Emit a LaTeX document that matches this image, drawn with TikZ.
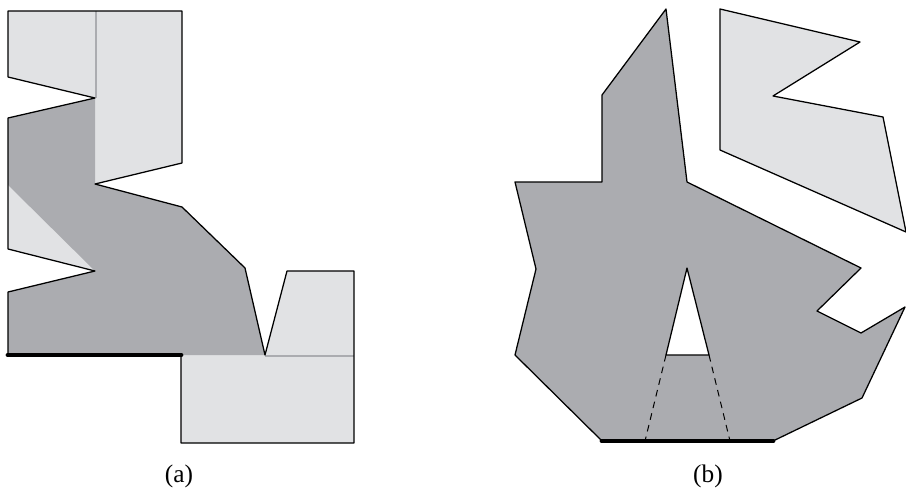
\documentclass[tikz,border=0pt]{standalone}
\usepackage{fontspec}
\setmainfont{Liberation Serif}
\usetikzlibrary{positioning}
\definecolor{polylight}{RGB}{225,226,228}
\definecolor{polydark}{RGB}{171,172,176}
\tikzset{
  polyfill/.style={fill=polylight},
  visfill/.style={fill=polydark},
  outline/.style={draw=black, line width=0.95pt, line join=round},
  holebox/.style={draw=black, fill=white, line width=0.95pt, line join=round},
  winline/.style={draw=polydark, line width=2pt},
  chordline/.style={draw=black, dashed, dash pattern=on 5pt off 4pt, line width=0.75pt},
  baseedge/.style={draw=black, line width=3.6pt, line cap=round},
  caption/.style={font=\fontsize{19}{22}\selectfont, inner sep=0pt}
}

\begin{document}
\begin{tikzpicture}[x=0.75pt, y=-0.75pt]
  \useasboundingbox (0,0) rectangle (906,489);
  % (a)
  \path[polyfill] (8,11) -- (182,11) -- (182,163) -- (95,184) -- (182,207) -- (245,268)
    -- (265,355) -- (287,271) -- (354,271) -- (354,443) -- (181,443) -- (181,355)
    -- (8,355) -- (8,292) -- (95,271) -- (8,249) -- (8,118) -- (95,98) -- (8,77) -- cycle;
  \path[visfill] (8,118) -- (95,98) -- (95,184) -- (182,207) -- (245,268) -- (265,355)
    -- (8,355) -- (8,292) -- (95,271) -- (8,185) -- cycle;
  \draw[winline] (96,11) -- (96,98);
  \draw[winline] (265,356) -- (354,356);
  \path[outline] (8,11) -- (182,11) -- (182,163) -- (95,184) -- (182,207) -- (245,268)
    -- (265,355) -- (287,271) -- (354,271) -- (354,443) -- (181,443) -- (181,355)
    -- (8,355) -- (8,292) -- (95,271) -- (8,249) -- (8,118) -- (95,98) -- (8,77) -- cycle;
  \draw[baseedge] (8,355) -- (181,355);
  \node[caption] (capa) at (179,476) {(a)};
  % (b)
  \path[polyfill, outline] (720,9) -- (860,42) -- (773,96) -- (883,117) -- (906,232)
    -- (720,150) -- cycle;
  \path[visfill, outline] (666,9) -- (687,182) -- (861,268) -- (817,311) -- (861,333)
    -- (905,307) -- (862,398) -- (773,441) -- (602,441) -- (515,355) -- (536,269)
    -- (515,182) -- (602,182) -- (602,95) -- cycle;
  \path[holebox] (687,268) -- (709,355) -- (666,355) -- cycle;
  \draw[chordline] (666,355) -- (645,441);
  \draw[chordline] (709,355) -- (730,441);
  \draw[baseedge] (602,441) -- (773,441);
  \node[caption] (capb) at (708,476) {(b)};
\end{tikzpicture}
\end{document}
